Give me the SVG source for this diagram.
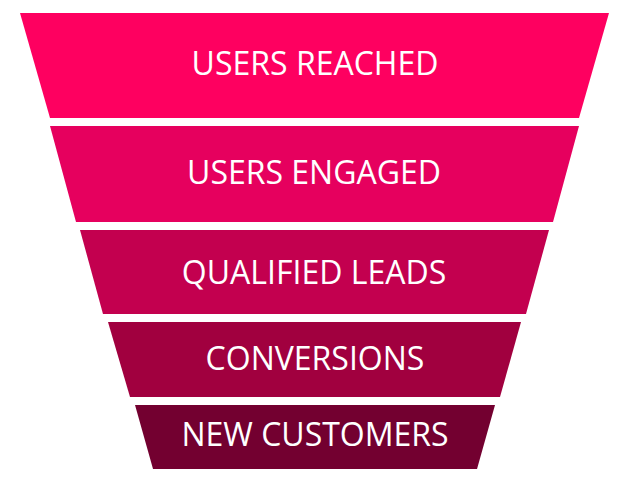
<svg xmlns="http://www.w3.org/2000/svg" width="618" height="486" viewBox="0 0 618 486">
<style>
text{font-family:"Open Sans","Liberation Sans",sans-serif;font-size:32px;fill:#ffffff;text-anchor:middle}
</style>
<rect width="618" height="486" fill="#ffffff"/>
<g id="users-reached">
<polygon points="20,13 609,13 579,118 50,118" fill="#fe0060"/>
<text x="315" y="75">USERS REACHED</text>
</g>
<g id="users-engaged">
<polygon points="50,126 579,126 553,222 76,222" fill="#e6005e"/>
<text x="314" y="184">USERS ENGAGED</text>
</g>
<g id="qualified-leads">
<polygon points="80,230 549,230 526,314 103,314" fill="#c3004f"/>
<text x="314" y="284">QUALIFIED LEADS</text>
</g>
<g id="conversions">
<polygon points="108,322 521,322 500,397 130,397" fill="#a1003f"/>
<text x="315" y="370">CONVERSIONS</text>
</g>
<g id="new-customers">
<polygon points="135,405 495,405 477,469 153,469" fill="#730030"/>
<text x="315" y="446">NEW CUSTOMERS</text>
</g>
<g id="connectors"/>
</svg>
